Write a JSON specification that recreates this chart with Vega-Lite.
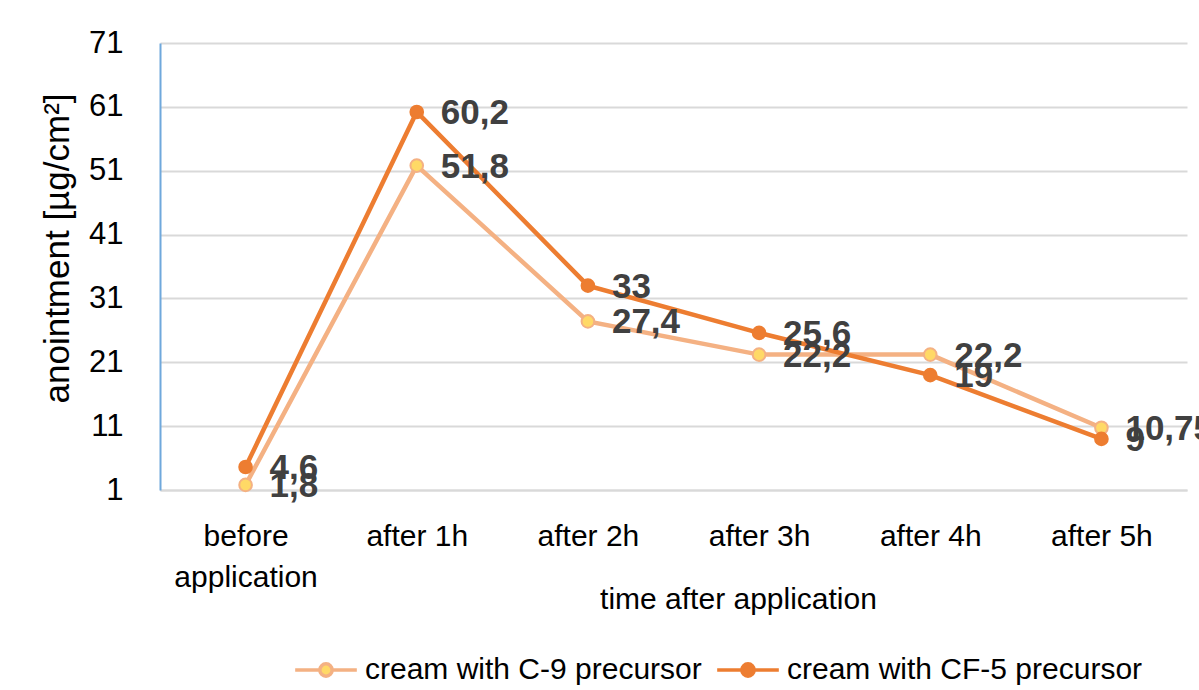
{
  "$schema": "https://vega.github.io/schema/vega-lite/v6.json",
  "width": 1027,
  "height": 447,
  "autosize": {"type": "none"},
  "padding": {"left": 160, "top": 43, "right": 12, "bottom": 200},
  "config": {
    "font": "Liberation Sans",
    "locale": {"number": {"decimal": ",", "thousands": ".", "grouping": [3], "currency": ["", " €"]}},
    "view": {"stroke": null},
    "axis": {
      "labelFont": "Liberation Sans",
      "titleFont": "Liberation Sans",
      "labelColor": "#000000",
      "titleColor": "#000000",
      "titleFontWeight": "normal",
      "ticks": false,
      "gridColor": "#D9D9D9",
      "gridWidth": 2
    },
    "legend": {
      "labelFont": "Liberation Sans",
      "labelFontSize": 30,
      "labelColor": "#000000",
      "labelLimit": 600,
      "padding": 0
    }
  },
  "data": {
    "values": [
      {"time": "before application", "series": "cream with C-9 precursor", "value": 1.8},
      {"time": "after 1h", "series": "cream with C-9 precursor", "value": 51.8},
      {"time": "after 2h", "series": "cream with C-9 precursor", "value": 27.4},
      {"time": "after 3h", "series": "cream with C-9 precursor", "value": 22.2},
      {"time": "after 4h", "series": "cream with C-9 precursor", "value": 22.2},
      {"time": "after 5h", "series": "cream with C-9 precursor", "value": 10.75},
      {"time": "before application", "series": "cream with CF-5 precursor", "value": 4.6},
      {"time": "after 1h", "series": "cream with CF-5 precursor", "value": 60.2},
      {"time": "after 2h", "series": "cream with CF-5 precursor", "value": 33},
      {"time": "after 3h", "series": "cream with CF-5 precursor", "value": 25.6},
      {"time": "after 4h", "series": "cream with CF-5 precursor", "value": 19},
      {"time": "after 5h", "series": "cream with CF-5 precursor", "value": 9}
    ]
  },
  "encoding": {
    "x": {
      "field": "time",
      "type": "nominal",
      "sort": ["before application", "after 1h", "after 2h", "after 3h", "after 4h", "after 5h"],
      "scale": {"type": "point", "padding": 0.5},
      "axis": {
        "title": "time after application",
        "titleFontSize": 30,
        "titleX": 578,
        "titleY": 118,
        "titleAlign": "center",
        "titleBaseline": "alphabetic",
        "labelFontSize": 30,
        "labelAngle": 0,
        "labelPadding": 31,
        "labelLineHeight": 41,
        "labelBaseline": "top",
        "labelExpr": "datum.label == 'before application' ? ['before', 'application'] : datum.label",
        "domainColor": "#D9D9D9",
        "domainWidth": 2,
        "grid": false
      }
    },
    "y": {
      "field": "value",
      "type": "quantitative",
      "scale": {"domain": [1, 71], "nice": false, "zero": false},
      "axis": {
        "title": "anointment [µg/cm²]",
        "titleFontSize": 35,
        "titleAngle": 270,
        "titleX": -103,
        "titleY": 205,
        "titleAlign": "center",
        "titleBaseline": "middle",
        "values": [1, 11, 21, 31, 41, 51, 61, 71],
        "labelFontSize": 31,
        "labelPadding": 37,
        "domainColor": "#6FA8DC",
        "domainWidth": 2,
        "grid": true
      }
    }
  },
  "layer": [
    {
      "mark": {"type": "line", "strokeWidth": 4.5},
      "encoding": {
        "stroke": {
          "field": "series",
          "type": "nominal",
          "title": null,
          "scale": {
            "domain": ["cream with C-9 precursor", "cream with CF-5 precursor"],
            "range": ["#F4B183", "#ED7D31"]
          },
          "legend": {
            "orient": "none",
            "legendX": 133,
            "legendY": 594,
            "direction": "horizontal",
            "columnPadding": 8,
            "labelOffset": 6,
            "symbolType": "M-1,0H-0.2M0.2,0H1M0.2,0A0.2,0.2,0,1,1,-0.2,0A0.2,0.2,0,1,1,0.2,0Z",
            "symbolSize": 3800,
            "symbolStrokeWidth": 3.5
          }
        }
      }
    },
    {
      "mark": {"type": "point", "shape": "circle", "filled": true, "size": 160, "strokeWidth": 2, "opacity": 1},
      "encoding": {
        "stroke": {"field": "series", "type": "nominal", "title": null},
        "fill": {
          "field": "series",
          "type": "nominal",
          "title": null,
          "scale": {
            "domain": ["cream with C-9 precursor", "cream with CF-5 precursor"],
            "range": ["#FFD966", "#ED7D31"]
          },
          "legend": {
            "orient": "none",
            "legendX": 133,
            "legendY": 594,
            "direction": "horizontal",
            "columnPadding": 8,
            "labelOffset": 6,
            "symbolType": "M-1,0H-0.2M0.2,0H1M0.2,0A0.2,0.2,0,1,1,-0.2,0A0.2,0.2,0,1,1,0.2,0Z",
            "symbolSize": 3800,
            "symbolStrokeWidth": 3.5
          }
        }
      }
    },
    {
      "mark": {
        "type": "text",
        "align": "left",
        "baseline": "middle",
        "dx": 24,
        "dy": 1,
        "fontSize": 35,
        "fontWeight": "bold",
        "color": "#404040"
      },
      "encoding": {
        "text": {"field": "value", "type": "quantitative", "format": ".4~r"}
      }
    }
  ]
}
